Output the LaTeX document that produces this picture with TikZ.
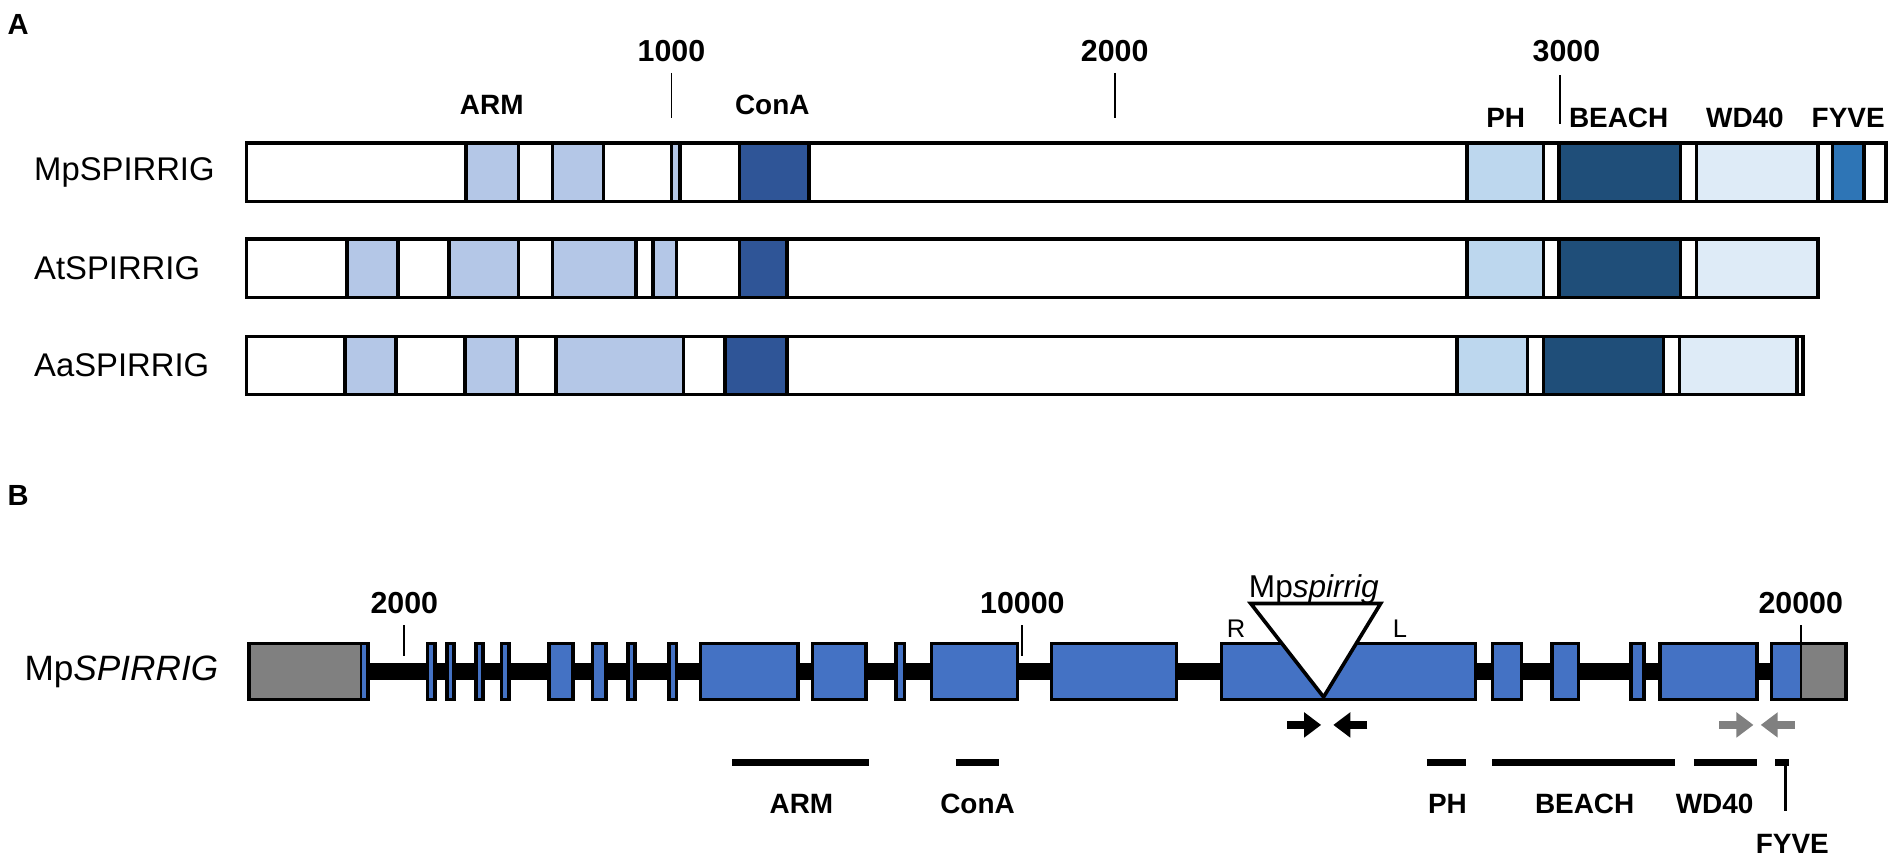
\documentclass[tikz,border=0pt]{standalone}
\usepackage{fontspec}
\setmainfont{Liberation Sans}
\usetikzlibrary{arrows.meta}
\definecolor{armc}{HTML}{B4C7E7}
\definecolor{conac}{HTML}{2F5597}
\definecolor{phc}{HTML}{BDD7EE}
\definecolor{beachc}{HTML}{1F4E79}
\definecolor{wdc}{HTML}{DEEBF7}
\definecolor{fyvec}{HTML}{2E75B6}
\definecolor{exonc}{HTML}{4472C4}
\definecolor{utrc}{HTML}{808080}
\definecolor{primg}{HTML}{808080}
\begin{document}
\begin{tikzpicture}[x=1pt,y=-1pt,
  lab/.style={font=\fontsize{23}{28}\selectfont\bfseries, inner sep=0pt},
  num/.style={font=\fontsize{25}{28}\selectfont\bfseries, inner sep=0pt},
  rowlab/.style={font=\fontsize{27}{30}\selectfont, inner sep=0pt, anchor=west},
  panel/.style={font=\fontsize{24}{26}\selectfont\bfseries, inner sep=0pt},
  bx/.style={line width=3pt},
  tick/.style={line width=1.6pt},
  dom/.style={line width=6pt},
  prim/.style={line width=6pt, -{Triangle[length=14pt,width=20pt]}},
]
\useasboundingbox (0,0) rectangle (1568,710);

% ---------------- Panel A ----------------
\node[panel] (pA) at (15,20) {A};

% scale ticks
\node[num] (n1000) at (553,42) {1000};
\node[num] (n2000) at (918,42) {2000};
\node[num] (n3000) at (1290,42) {3000};
\draw[tick] (553,60) -- (553,97);
\draw[tick] (918,60) -- (918,97);
\draw[tick] (1285,62) -- (1285,102);

% domain labels
\node[lab] (lARM) at (405,86) {ARM};
\node[lab] (lConA) at (636,86) {ConA};
\node[lab] (lPH) at (1240,97) {PH};
\node[lab] (lBEACH) at (1333,97) {BEACH};
\node[lab] (lWD) at (1437,97) {WD40};
\node[lab] (lFYVE) at (1522,97) {FYVE};

% row 1 MpSPIRRIG
\node[rowlab] (r1) at (28,142) {MpSPIRRIG};
\fill[white] (203,118) rectangle (1553,166);
\foreach \a/\b/\c in {384/427/armc, 455/497/armc, 553/560/armc, 609/666/conac,
  1208/1271/phc, 1284/1384/beachc, 1397/1497/wdc, 1509/1535/fyvec}
  \draw[bx, fill=\c] (\a,118) rectangle (\b,166);
\draw[bx] (203,118) rectangle (1553,166);

% row 2 AtSPIRRIG
\node[rowlab] (r2) at (28,221) {AtSPIRRIG};
\foreach \a/\b/\c in {286/328/armc, 370/427/armc, 455/524/armc, 538/557/armc, 609/648/conac,
  1208/1271/phc, 1284/1384/beachc, 1397/1497/wdc}
  \draw[bx, fill=\c] (\a,197) rectangle (\b,245);
\draw[bx] (203,197) rectangle (1497,245);

% row 3 AaSPIRRIG
\node[rowlab] (r3) at (28,301) {AaSPIRRIG};
\foreach \a/\b/\c in {284/326/armc, 383/426/armc, 458/563/armc, 597/648/conac,
  1200/1258/phc, 1271/1370/beachc, 1383/1480/wdc}
  \draw[bx, fill=\c] (\a,277) rectangle (\b,325);
\draw[bx] (203,277) rectangle (1485,325);

% ---------------- Panel B ----------------
\node[panel] (pB) at (15,408) {B};

\node[rowlab, font=\fontsize{29}{32}\selectfont] (gB) at (20,553) {Mp\textit{SPIRRIG}};

% scale ticks
\node[num] (m2000) at (333,497) {2000};
\node[num] (m10000) at (842,497) {10000};
\node[num] (m20000) at (1483,497) {20000};
\draw[tick] (333,515) -- (333,540);
\draw[tick] (842,515) -- (842,540);
\draw[tick] (1483,515) -- (1483,540);

% intron backbone
\draw[line width=14pt] (300,553) -- (1480,553);

% first exon with 5' UTR
\fill[utrc] (205,530) rectangle (297,576);
\fill[exonc] (297,530) rectangle (303,576);
\draw[line width=1.5pt] (297,530) -- (297,576);
\draw[bx] (205,530) rectangle (303,576);

% internal exons
\foreach \a/\b in {352/358, 368/374, 392/398, 413/419, 452/472, 488/499, 517/523, 551/557,
  577/657, 669/713, 738/745, 767/838, 866/969, 1006/1215, 1229/1253, 1278/1300,
  1343/1354, 1367/1447}
  \draw[bx, fill=exonc] (\a,530) rectangle (\b,576);

% last exon with 3' UTR
\fill[exonc] (1459,530) rectangle (1483,576);
\fill[utrc] (1483,530) rectangle (1520,576);
\draw[line width=1.5pt] (1483,530) -- (1483,576);
\draw[bx] (1459,530) rectangle (1520,576);

% insertion triangle
\node[font=\fontsize{26}{30}\selectfont, inner sep=0pt] (ins) at (1082,485) {Mp\textit{spirrig}};
\draw[line width=3pt, fill=white, line join=miter] (1030,497) -- (1137,497) -- (1090,574) -- cycle;
\node[font=\fontsize{21}{24}\selectfont, inner sep=0pt] (R) at (1018,518) {R};
\node[font=\fontsize{21}{24}\selectfont, inner sep=0pt] (L) at (1153,518) {L};

% primers
\draw[prim] (1060,597) -- (1088,597);
\draw[prim] (1126,597) -- (1098,597);
\draw[prim, primg] (1416,597) -- (1444,597);
\draw[prim, primg] (1478,597) -- (1450,597);

% domain bars
\draw[dom] (603,628) -- (716,628);
\draw[dom] (787,628) -- (823,628);
\draw[dom] (1175,628) -- (1207,628);
\draw[dom] (1229,628) -- (1379,628);
\draw[dom] (1395,628) -- (1447,628);
\draw[dom] (1462,628) -- (1473,628);
\draw[line width=2.5pt] (1470,628) -- (1470,668);

\node[lab] (bARM) at (660,662) {ARM};
\node[lab] (bConA) at (805,662) {ConA};
\node[lab] (bPH) at (1192,662) {PH};
\node[lab] (bBEACH) at (1305,662) {BEACH};
\node[lab] (bWD) at (1412,662) {WD40};
\node[lab] (bFYVE) at (1476,695) {FYVE};
\end{tikzpicture}
\end{document}
